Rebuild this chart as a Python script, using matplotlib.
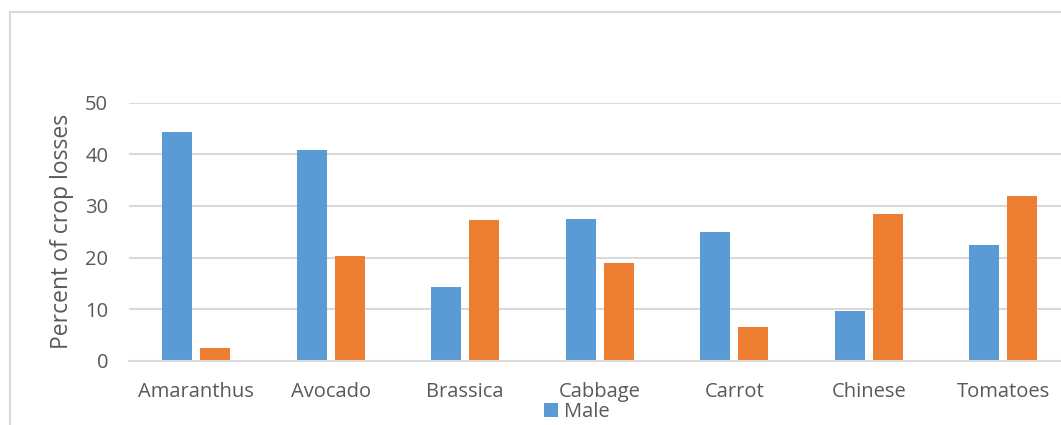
import matplotlib.pyplot as plt
from matplotlib.patches import Rectangle
import numpy as np

# Data
crops = ['Amaranthus', 'Avocado', 'Brassica', 'Cabbage', 'Carrot', 'Chinese', 'Tomatoes']
male = [44.4, 40.9, 14.3, 27.5, 24.9, 9.7, 22.5]
female = [2.4, 20.3, 27.3, 18.9, 6.5, 28.5, 32.0]
y_ticks = [0, 10, 20, 30, 40, 50]

BLUE = '#5B9BD5'
ORANGE = '#ED7D31'
GRID = '#D9D9D9'
TEXT = '#595959'

plt.rcParams['font.family'] = ['Open Sans', 'DejaVu Sans']

W, H = 1061, 425
fig = plt.figure(figsize=(W / 100, H / 100), dpi=100)

# chart frame (right and bottom edges fall outside the picture)
fig.patches.append(Rectangle((10 / W, -0.1), 1.2, (H - 12) / H + 0.1,
                             transform=fig.transFigure, fill=False,
                             edgecolor=GRID, linewidth=1.5))

# axes: plot area is cut off on the right side
left, right = 129 / W, 1070.5 / W
bottom, top = (H - 360.7) / H, (H - 102.7) / H
ax = fig.add_axes([left, bottom, right - left, top - bottom])

x = np.arange(len(crops))
bw = 0.223
off = bw / 2 + 0.03
male_bars = ax.bar(x - off, male, bw, color=BLUE, label='Male', zorder=3)
ax.bar(x + off, female, bw, color=ORANGE, label='Female', zorder=3)

ax.set_xlim(-0.5, len(crops) - 0.5)
ax.set_ylim(0, 50)
ax.set_yticks(y_ticks)
ax.set_xticks(x)
ax.set_xticklabels(crops)
ax.grid(axis='y', color=GRID, linewidth=1.5, zorder=0)
ax.set_axisbelow(True)

for s in ['top', 'right', 'left']:
    ax.spines[s].set_visible(False)
ax.spines['bottom'].set_color(GRID)
ax.spines['bottom'].set_linewidth(1.5)
ax.spines['bottom'].set_zorder(4)

ax.tick_params(axis='both', length=0, colors=TEXT, labelsize=14.5)
ax.tick_params(axis='x', pad=15)
ax.tick_params(axis='y', pad=15)
ax.set_ylabel('Percent of crop losses', fontsize=16.5, color=TEXT, labelpad=8)

# only the Male entry of the legend is visible in the picture
fig.legend(handles=[male_bars], labels=['Male'], loc='upper left',
           bbox_to_anchor=(534 / W, (H - 392) / H),
           frameon=False, fontsize=14.5, labelcolor=TEXT,
           handlelength=0.7, handleheight=0.7, handletextpad=0.3,
           borderpad=0)

fig.savefig('out.png', dpi=100)
